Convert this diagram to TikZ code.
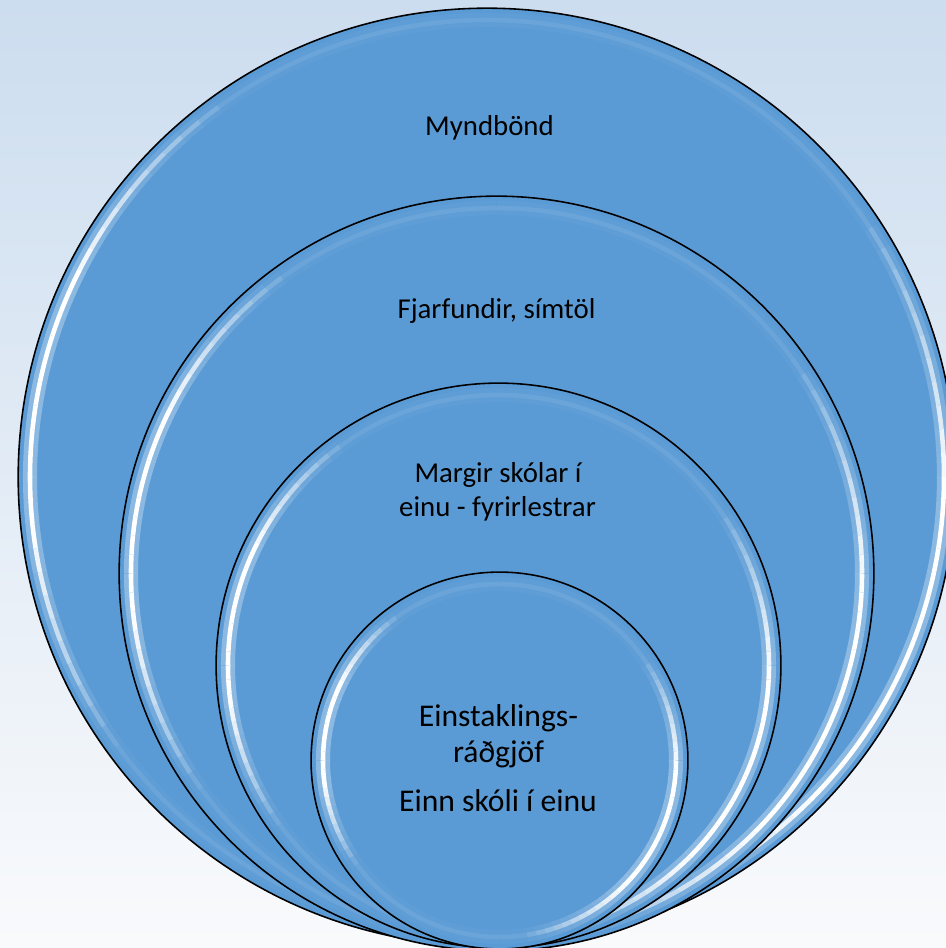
\documentclass[tikz,border=0pt]{standalone}
\usepackage{fontspec}
\setmainfont{Carlito}
\definecolor{bgtop}{HTML}{CCDDEF}
\definecolor{bgbot}{HTML}{F9FAFC}
\definecolor{ringblue}{HTML}{5B9BD5}

\begin{document}
\begin{tikzpicture}[x=0.02cm, y=-0.02cm,
    ring/.style={circle, draw=black, line width=0.9pt, fill=ringblue, inner sep=0pt},
    glow/.style={white, line cap=butt},
    lbl/.style={anchor=base, inner sep=0pt, font=\fontsize{16.4}{20}\selectfont},
    lblbig/.style={lbl, font=\fontsize{18}{22}\selectfont}]

% 背景
\shade[top color=bgtop, bottom color=bgbot] (0,0) rectangle (946,948);
\useasboundingbox (0,0) rectangle (946,948);

% 円(外側から順に)
\foreach \n/\cx/\cy/\r in {
    1/487/477/469,
    2/496.5/573.5/377.5,
    3/498.5/665.5/282.5,
    4/499.5/760.5/188.5} {
    \node[ring, minimum size=\r*0.04cm] (c\n) at (\cx,\cy) {};
    % ハイライト(左側と右下が明るい)
    \foreach \t in {-90,-87,...,267} {
        \pgfmathsetmacro\o{min(1, max(0.08, 1.5*(1-abs(\t-188)/48), 1.5*(1-abs(\t-22)/62)))}
        \draw[glow, line width=8pt, opacity=\o*0.3] (c\n.center) ++(\t:\r-12) arc[start angle=\t, end angle=\t+3, radius=\r-12];
        \draw[glow, line width=2.6pt, opacity=\o] (c\n.center) ++(\t:\r-12) arc[start angle=\t, end angle=\t+3, radius=\r-12];
    }
}

% 文字
\foreach \n/\x/\y/\t in {
    myndbond/489.5/135/{Myndbönd},
    fjarfundir/496.5/318/{Fjarfundir, símtöl},
    margir/498/482/{Margir skólar í},
    fyrirlestrar/497.5/516/{einu - fyrirlestrar}} {
    \node[lbl] (\n) at (\x,\y) {\t};
}
\foreach \n/\x/\y/\t in {
    einstaklings/498.5/726/{Einstaklings-},
    radgjof/498.5/762/{ráðgjöf},
    einnskoli/498/811/{Einn skóli í einu}} {
    \node[lblbig] (\n) at (\x,\y) {\t};
}
\end{tikzpicture}
\end{document}
